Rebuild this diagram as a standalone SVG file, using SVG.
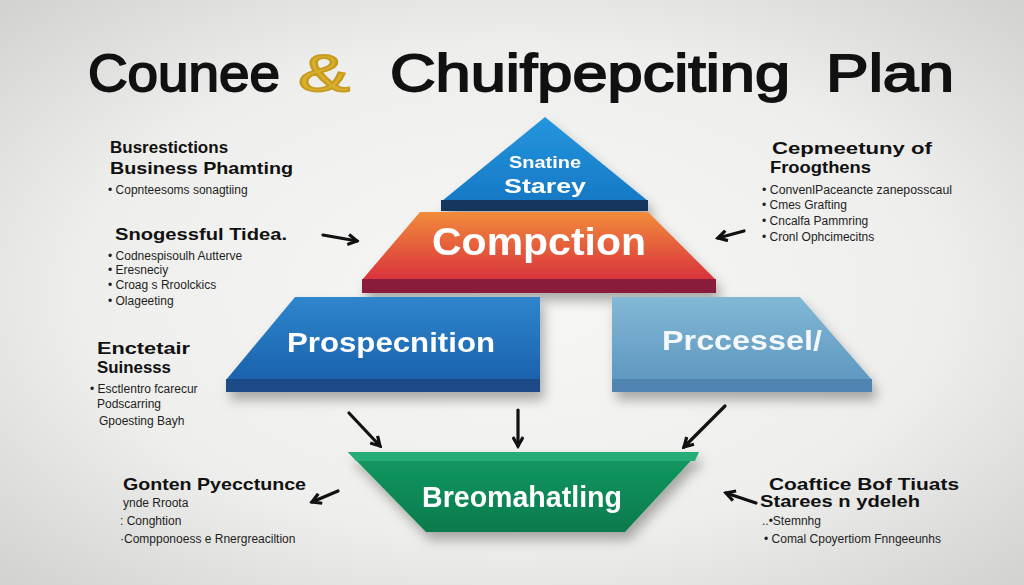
<svg xmlns="http://www.w3.org/2000/svg" width="1024" height="585" viewBox="0 0 1024 585">
<defs>
<radialGradient id="bg" cx="50%" cy="50%" r="70%">
<stop offset="0" stop-color="#f7f7f5"/>
<stop offset="0.6" stop-color="#eeeeec"/>
<stop offset="1" stop-color="#d2d2d0"/>
</radialGradient>
<linearGradient id="gTri" x1="0" y1="0" x2="0" y2="1">
<stop offset="0" stop-color="#2596de"/>
<stop offset="1" stop-color="#1679c6"/>
</linearGradient>
<linearGradient id="gOr" x1="0" y1="0" x2="0" y2="1">
<stop offset="0" stop-color="#f28c3a"/>
<stop offset="1" stop-color="#d8323c"/>
</linearGradient>
<linearGradient id="gBl" x1="0" y1="0" x2="0" y2="1">
<stop offset="0" stop-color="#2f86cc"/>
<stop offset="1" stop-color="#1a62ac"/>
</linearGradient>
<linearGradient id="gLb" x1="0" y1="0" x2="0" y2="1">
<stop offset="0" stop-color="#82b8d6"/>
<stop offset="1" stop-color="#5f98c0"/>
</linearGradient>
<linearGradient id="gGr" x1="0" y1="0" x2="0" y2="1">
<stop offset="0" stop-color="#139a62"/>
<stop offset="1" stop-color="#0c7a4c"/>
</linearGradient>
<filter id="sh" x="-20%" y="-20%" width="140%" height="160%">
<feDropShadow dx="4" dy="8" stdDeviation="6" flood-color="#000" flood-opacity="0.3"/>
</filter>
<marker id="ah" viewBox="0 0 10 10" refX="8" refY="5" markerWidth="4" markerHeight="4" orient="auto-start-reverse">
<path d="M1,1 L8,5 L1,9" fill="none" stroke="#111" stroke-width="2.5"/>
</marker>
<style>
.title{font-family:"Liberation Sans",Arial,sans-serif;font-size:52px;fill:#111;stroke:#111;stroke-width:1.8}
.lbl{font-family:"Liberation Sans",Arial,sans-serif;font-weight:bold;fill:#fff;text-anchor:middle}
.h{font-family:"Liberation Sans",Arial,sans-serif;font-weight:bold;font-size:17px;fill:#111}
.b{font-family:"Liberation Sans",Arial,sans-serif;font-size:12px;fill:#1e1e1e}
.arr{fill:none;stroke:#111;stroke-width:3.2;stroke-linecap:round;marker-end:url(#ah)}
</style>
</defs>
<rect width="1024" height="585" fill="url(#bg)"/>

<g id="title">
<text class="title" x="88" y="91" textLength="192" lengthAdjust="spacingAndGlyphs">Counee</text>
<text class="title" x="298" y="91" style="fill:#d9b02e;stroke:#c79b20" textLength="52" lengthAdjust="spacingAndGlyphs">&amp;</text>
<text class="title" x="390" y="91" textLength="400" lengthAdjust="spacingAndGlyphs">Chuifpepciting</text>
<text class="title" x="826" y="91" textLength="128" lengthAdjust="spacingAndGlyphs">Plan</text>
</g>

<g id="node-strategy" filter="url(#sh)">
<polygon points="545,117 648,201 442,201" fill="url(#gTri)"/>
<rect x="441" y="200" width="207" height="11" fill="#15345e"/>
<text class="lbl" x="545" y="168" font-size="17" textLength="72" lengthAdjust="spacingAndGlyphs">Snatine</text>
<text class="lbl" x="545" y="193" font-size="21" textLength="82" lengthAdjust="spacingAndGlyphs">Starey</text>
</g>

<g id="node-compction" filter="url(#sh)">
<polygon points="420,212 648,212 716,280 362,280" fill="url(#gOr)"/>
<rect x="362" y="279" width="354" height="14" fill="#8a1a3a"/>
<text class="lbl" x="539" y="255" font-size="38" textLength="214" lengthAdjust="spacingAndGlyphs">Compction</text>
</g>

<g id="node-prospecnition" filter="url(#sh)">
<polygon points="295,297 540,297 540,380 226,380" fill="url(#gBl)"/>
<rect x="226" y="379" width="314" height="13" fill="#1a4c88"/>
<text class="lbl" x="391" y="352" font-size="28" textLength="208" lengthAdjust="spacingAndGlyphs">Prospecnition</text>
</g>

<g id="node-processel" filter="url(#sh)">
<polygon points="612,297 800,297 872,380 612,380" fill="url(#gLb)"/>
<rect x="612" y="379" width="260" height="13" fill="#4f85b0"/>
<text class="lbl" x="742" y="350" font-size="28" fill-opacity="0.92" textLength="160" lengthAdjust="spacingAndGlyphs">Prccessel/</text>
</g>

<g id="node-breomahatling" filter="url(#sh)">
<polygon points="348,452 699,452 625,532 426,532" fill="url(#gGr)"/>
<polygon points="348,452 699,452 695,461 356,461" fill="#27ad74"/>
<text class="lbl" x="522" y="507" font-size="30" textLength="200" lengthAdjust="spacingAndGlyphs">Breomahatling</text>
</g>

<g id="connectors">
<path class="arr" d="M349,413 L380,446"/>
<path class="arr" d="M518,410 L518,446"/>
<path class="arr" d="M725,406 L684,447"/>
<path class="arr" d="M323,235 L357,241"/>
<path class="arr" d="M744,231 L718,238"/>
<path class="arr" d="M338,491 L312,502"/>
<path class="arr" d="M756,503 L726,493"/>
</g>

<g id="text-left-1">
<text class="h" x="110" y="153">Busrestictions</text>
<text class="h" x="110" y="174" textLength="183" lengthAdjust="spacingAndGlyphs">Business Phamting</text>
<text class="b" x="108" y="194">• Copnteesoms sonagtiing</text>
</g>
<g id="text-left-2">
<text class="h" x="115" y="240" font-size="18" textLength="172" lengthAdjust="spacingAndGlyphs">Snogessful Tidea.</text>
<text class="b" x="108" y="260">• Codnespisoulh Autterve</text>
<text class="b" x="108" y="274">• Eresneciy</text>
<text class="b" x="108" y="289">• Croag s Rroolckics</text>
<text class="b" x="108" y="305">• Olageeting</text>
</g>
<g id="text-left-3">
<text class="h" x="97" y="354" font-size="19" textLength="93" lengthAdjust="spacingAndGlyphs">Enctetair</text>
<text class="h" x="97" y="373" font-size="17" textLength="74" lengthAdjust="spacingAndGlyphs">Suinesss</text>
<text class="b" x="90" y="393">• Esctlentro fcarecur</text>
<text class="b" x="97" y="408">Podscarring</text>
<text class="b" x="99" y="425">Gpoesting Bayh</text>
</g>
<g id="text-left-4">
<text class="h" x="123" y="490" textLength="183" lengthAdjust="spacingAndGlyphs">Gonten Pyecctunce</text>
<text class="b" x="123" y="507">ynde Rroota</text>
<text class="b" x="120" y="525">: Conghtion</text>
<text class="b" x="120" y="543">·Compponoess e Rnergreaciltion</text>
</g>
<g id="text-right-1">
<text class="h" x="772" y="154" font-size="18" textLength="160" lengthAdjust="spacingAndGlyphs">Cepmeetuny of</text>
<text class="h" x="770" y="173" font-size="18" textLength="101" lengthAdjust="spacingAndGlyphs">Froogthens</text>
<text class="b" x="762" y="194" textLength="190" lengthAdjust="spacingAndGlyphs">• ConvenlPaceancte zaneposscaul</text>
<text class="b" x="762" y="209">• Cmes Grafting</text>
<text class="b" x="762" y="225">• Cncalfa Pammring</text>
<text class="b" x="762" y="241">• Cronl Ophcimecitns</text>
</g>
<g id="text-right-2">
<text class="h" x="769" y="490" textLength="190" lengthAdjust="spacingAndGlyphs">Coaftice Bof Tiuats</text>
<text class="h" x="760" y="507" textLength="160" lengthAdjust="spacingAndGlyphs">Starees n ydeleh</text>
<text class="b" x="762" y="525">..•Stemnhg</text>
<text class="b" x="764" y="543">• Comal Cpoyertiom Fnngeeunhs</text>
</g>
</svg>
